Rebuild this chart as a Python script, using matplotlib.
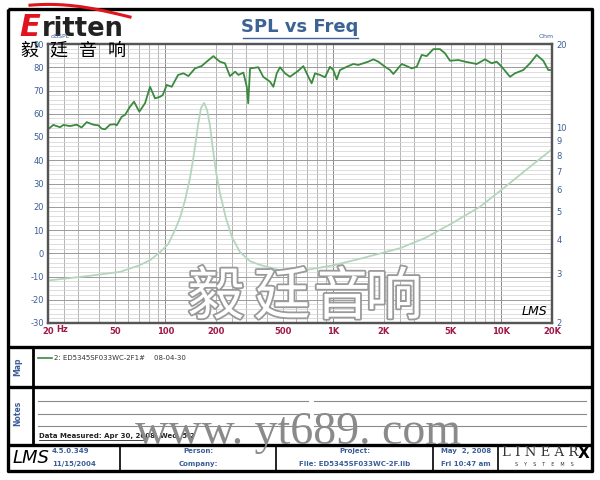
import numpy as np
import matplotlib
matplotlib.use("Agg")
import matplotlib.pyplot as plt
from matplotlib.ticker import MultipleLocator, NullLocator
import matplotlib.patheffects as pe

# SPL curve (Hz, dB)
spl_freq = [20, 21.5, 23.6, 24.7, 27, 29.6, 31.7, 34, 37.2, 39.9, 41.7, 43.7, 46.8, 50.1,
            51.3, 54.9, 57.5, 61.5, 65, 69.9, 75.6, 81, 86.7, 92.8, 96.3, 101.8, 109, 119,
            128, 137, 150, 164, 176, 193, 202, 211, 226, 242, 260, 272, 291, 305, 311, 319,
            357, 382, 419, 439, 460, 481, 515, 551, 618, 662, 709, 742, 777, 832, 891, 954,
            998, 1046, 1094, 1200, 1313, 1406, 1506, 1613, 1728, 1850, 2028, 2172, 2273,
            2550, 2731, 2924, 3131, 3354, 3591, 3932, 4309, 4614, 4943, 5537, 6070, 7127,
            7985, 8754, 9372, 10038, 11247, 12044, 13496, 14791, 16212, 17754, 19012, 20000]
spl_db = [53.3, 55.2, 54.2, 55.2, 54.7, 55.3, 54.1, 56.4, 55.3, 55.0, 53.6, 53.3, 55.3, 55.5,
          55.0, 58.7, 59.5, 63.0, 65.2, 60.9, 64.5, 71.6, 66.6, 67.3, 68.0, 72.4, 71.6, 76.7,
          77.4, 76.2, 79.5, 80.5, 82.4, 84.8, 83.5, 82.4, 81.7, 76.2, 78.1, 76.7, 77.7, 71.6,
          64.5, 79.5, 80.0, 75.9, 73.8, 71.6, 77.4, 80.0, 77.4, 75.9, 78.5, 80.5, 75.9, 73.1,
          77.4, 76.7, 75.7, 80.2, 78.8, 74.8, 78.8, 80.2, 81.4, 81.0, 81.7, 82.4, 83.4, 82.4,
          80.2, 78.8, 77.1, 81.4, 80.5, 79.5, 80.2, 85.3, 84.8, 87.8, 87.8, 86.0, 82.8, 83.1,
          82.4, 81.4, 83.4, 81.7, 82.4, 80.2, 75.9, 77.4, 78.8, 81.7, 85.3, 82.8, 78.8, 78.8]

# impedance curve (Hz, Ohm)
imp_freq = [20, 35, 53.7, 70, 81, 93, 104, 114, 122, 131, 140, 146, 152, 156, 163, 170,
            177, 184, 192, 200, 211, 229, 249, 278, 319, 366, 481, 632, 1000, 1500, 2500,
            3500, 5000, 7450, 10000, 14000, 20000]
imp_ohm = [2.84, 2.95, 3.05, 3.22, 3.36, 3.59, 3.84, 4.31, 4.76, 5.52, 6.62, 7.68, 9.05,
           10.2, 11.8, 12.3, 11.6, 10.25, 8.34, 6.96, 5.85, 4.76, 4.06, 3.59, 3.33, 3.23,
           3.09, 3.07, 3.22, 3.42, 3.71, 4.03, 4.53, 5.22, 6.0, 7.07, 8.39]

x_ticks = [20, 50, 100, 200, 500, 1000, 2000, 5000, 10000, 20000]
x_labels = ["20", "50", "100", "200", "500", "1K", "2K", "5K", "10K", "20K"]
db_ticks = list(range(-30, 91, 10))
ohm_ticks = [2, 3, 4, 5, 6, 7, 8, 9, 10, 20]
grid_freqs = [m * d for d in (10, 100, 1000) for m in (2, 2.5, 3, 4, 5, 6, 7, 8, 9, 10)]

blue = "#3b5e99"
red = "#a01848"

fig = plt.figure(figsize=(6, 4.8), dpi=100)

# background layer in pixel coordinates
bg = fig.add_axes([0, 0, 1, 1], zorder=-1)
bg.set_xlim(0, 600)
bg.set_ylim(480, 0)
bg.axis("off")

K = dict(color="black", solid_capstyle="butt")
bg.plot([8, 592, 592, 8, 8], [9, 9, 471, 471, 9], lw=2.4, **K)
for yy in (347, 387, 445):
    bg.plot([8, 592], [yy, yy], lw=2.4, **K)
bg.plot([33, 33], [347, 445], lw=2.0, **K)
for xx in (120, 276, 433, 498):
    bg.plot([xx, xx], [445, 471], lw=1.2, **K)

# logo
t = np.linspace(0.0, 1.0, 60)
bg.plot(30 + 100 * t, 15 - 11 * np.sin(np.pi * (0.35 + 0.65 * t)) + 2 * t, color="#e0141e", lw=2.2)
bg.text(30, 27, "E", color="#e0141e", fontsize=22, fontweight="bold", style="italic",
        ha="center", va="center")
bg.text(42, 29, "ritten", color="#222", fontsize=18.5, fontweight="bold", ha="left", va="center")
for cx, ch in zip((29, 58, 88, 117), "毅廷音响"):
    fig.text(cx, 51, ch, transform=bg.transData, fontsize=13, family="Noto Sans CJK SC",
             ha="center", va="center", zorder=6)

# title
bg.text(300, 27, "SPL vs Freq", color="#3d6394", fontsize=13, fontweight="bold",
        ha="center", va="center")
bg.plot([243, 358], [37.5, 37.5], color="#3d6394", lw=1.0)

bg.text(51, 37, "dBSPL", color=blue, fontsize=4.5, ha="left", va="center")
bg.text(546, 37, "Ohm", color=blue, fontsize=4.5, ha="center", va="center")
bg.text(62, 329, "Hz", color=red, fontsize=6, fontweight="bold", ha="center", va="center")

# main chart
ax = fig.add_axes([48 / 600, 1 - 323 / 480, 504 / 600, 279 / 480])
ax.set_xscale("log")
ax.set_xlim(20, 20000)
ax.set_ylim(-30, 90)
ax.yaxis.set_minor_locator(MultipleLocator(2))
ax.xaxis.set_minor_locator(NullLocator())
ax.grid(which="major", axis="y", color="#9a9a9a", lw=0.7)
ax.grid(which="minor", axis="y", color="#d0d0d0", lw=0.5)
for f in grid_freqs:
    c = "#777777" if f in (100, 1000, 10000) else "#a8a8a8"
    ax.axvline(f, color=c, lw=0.6, zorder=0.5)
ax.set_axisbelow(True)
ax.set_xticks(x_ticks)
ax.set_xticklabels(x_labels)
ax.set_yticks(db_ticks)
ax.set_yticklabels([str(v) for v in db_ticks])
ax.tick_params(axis="x", length=0, pad=3, labelsize=6, labelcolor=red)
ax.tick_params(axis="y", which="both", length=0, pad=3, labelsize=6, labelcolor=blue)
for lab in ax.get_xticklabels():
    lab.set_fontweight("bold")
ax.plot(spl_freq, spl_db, color="#3a8a3e", lw=1.3, zorder=3)
ax.text(0.965, 0.04, "LMS", transform=ax.transAxes, fontsize=9, style="italic",
        ha="center", va="center", color="black")

ax2 = ax.twinx()
ax2.set_yscale("log")
ax2.set_ylim(2, 20)
ax2.set_yticks(ohm_ticks)
ax2.set_yticklabels([str(v) for v in ohm_ticks])
ax2.yaxis.set_minor_locator(NullLocator())
ax2.tick_params(axis="y", which="both", length=0, pad=3, labelsize=6, labelcolor=blue)
ax2.plot(imp_freq, imp_ohm, color="#b4d6bc", lw=1.3)
for a in (ax, ax2):
    for s in a.spines.values():
        s.set_color("#555555")
        s.set_linewidth(1.6)

# map / notes sections
bg.text(18, 367, "Map", rotation=90, color=blue, fontsize=5.5, fontweight="bold",
        ha="center", va="center")
bg.text(18, 413, "Notes", rotation=90, color=blue, fontsize=5.5, fontweight="bold",
        ha="center", va="center")
bg.plot([38, 52], [358, 358], color="#3a8a3e", lw=1.2)
bg.text(54, 358, "2: ED5345SF033WC-2F1#    08-04-30", fontsize=5, color="#333",
        ha="left", va="center")
for yy in (401, 414, 426):
    bg.plot([38, 308], [yy, yy], color="#8a8a8a", lw=0.8)
    bg.plot([314, 586], [yy, yy], color="#8a8a8a", lw=0.8)
bg.text(39, 436, "Data Measured: Apr 30, 2008  Wed  5:2", fontsize=5, fontweight="bold",
        color="#222", ha="left", va="center")
bg.plot([39, 143], [439.5, 439.5], color="#222", lw=0.6)

# footer
bg.text(31, 458, "LMS", fontsize=13, style="italic", ha="center", va="center")
bg.text(52, 451, "4.5.0.349", fontsize=5, fontweight="bold", color=blue, ha="left", va="center")
bg.text(52, 464, "11/15/2004", fontsize=5, fontweight="bold", color=blue, ha="left", va="center")
for cx, l1, l2 in ((198, "Person:", "Company:"),
                   (355, "Project:", "File: ED5345SF033WC-2F.lib"),
                   (466, "May  2, 2008", "Fri 10:47 am")):
    bg.text(cx, 451, l1, fontsize=5, fontweight="bold", color=blue, ha="center", va="center")
    bg.text(cx, 464, l2, fontsize=5, fontweight="bold", color=blue, ha="center", va="center")
bg.text(502, 453, "L I N E A R", fontsize=9.5, family="DejaVu Serif", color="#333",
        ha="left", va="center")
bg.text(584, 453, "X", fontsize=11, fontweight="bold", color="black", ha="center", va="center")
bg.text(544, 465, "S    Y    S    T    E    M    S", fontsize=3.5, color="#333",
        ha="center", va="center")

# watermarks drawn above everything
outline = [pe.Stroke(linewidth=2.6, foreground="#9a9a9a"), pe.Normal()]
for cx, ch in zip((216, 282, 342, 394), "毅廷音响"):
    fig.text(cx, 298, ch, transform=bg.transData, fontsize=41, family="Noto Sans CJK SC",
             color="white", ha="center", va="center", path_effects=outline, zorder=5)
fig.text(298, 433, "www. yt689. com", transform=bg.transData, fontsize=33,
         family="Liberation Serif", color="#8a8a8a", ha="center", va="center", zorder=5)

fig.savefig("out.png", dpi=100)
